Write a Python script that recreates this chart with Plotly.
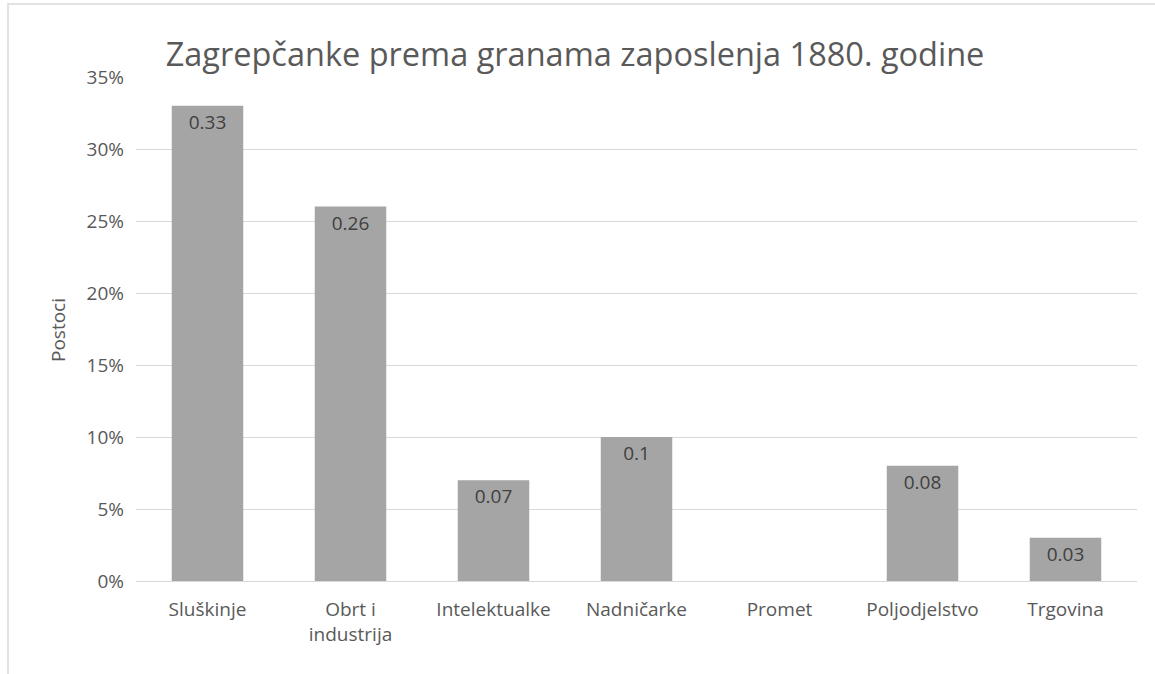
import plotly.graph_objects as go

categories = ["Sluškinje", "Obrt i<br>industrija", "Intelektualke", "Nadničarke", "Promet", "Poljodjelstvo", "Trgovina"]
values = [0.33, 0.26, 0.07, 0.10, 0.0, 0.08, 0.03]
labels = ["0.33", "0.26", "0.07", "0.1", "", "0.08", "0.03"]
y_ticks = [0, 0.05, 0.10, 0.15, 0.20, 0.25, 0.30, 0.35]
y_tick_text = ["0%", "5%", "10%", "15%", "20%", "25%", "30%", "35%"]

FONT = "Open Sans, Lato, sans-serif"
W, H = 1155, 674
L, R, T, B = 136, 18, 77, 93
PW, PH = W - L - R, H - T - B

fig = go.Figure(go.Bar(
    x=categories, y=values, text=labels,
    textposition="inside", insidetextanchor="end",
    textfont=dict(size=19, color="#404040", family=FONT),
    marker=dict(color="#A5A5A5", line=dict(width=0)),
    cliponaxis=False,
))

fig.update_layout(
    width=W, height=H,
    margin=dict(l=L, r=R, t=T, b=B),
    paper_bgcolor="white", plot_bgcolor="white",
    bargap=0.5,
    showlegend=False,
    font=dict(family=FONT, color="#595959", size=19),
    title=dict(text="Zagrepčanke prema granama zaposlenja 1880. godine",
               x=575 / W, xref="container", xanchor="center", y=1 - 55 / H, yanchor="middle",
               font=dict(size=32.5, color="#595959", family=FONT)),
    xaxis=dict(showgrid=False, showline=True, linecolor="#D9D9D9", linewidth=1,
               ticks="", ticklabelstandoff=11, tickfont=dict(size=19, color="#595959")),
    yaxis=dict(range=[0, 0.35], tickvals=y_ticks, ticktext=y_tick_text,
               showgrid=True, gridcolor="#D9D9D9", gridwidth=1, zeroline=False,
               showline=False, ticks="", ticklabelstandoff=11,
               tickfont=dict(size=19, color="#595959")),
    uniformtext=dict(mode=False),
)

fig.add_annotation(text="Postoci", xref="paper", yref="paper",
                   x=(58 - L) / PW, y=(H - B - 330) / PH, textangle=-90,
                   showarrow=False, xanchor="center", yanchor="middle",
                   font=dict(size=19, color="#595959", family=FONT))

# chart-area border (cropped on right and bottom in the original)
fig.add_shape(type="rect", xref="paper", yref="paper",
              x0=(8 - L) / PW, x1=1.2,
              y0=-0.3, y1=1 + (T - 4) / PH,
              line=dict(color="#D9D9D9", width=1.5), fillcolor="rgba(0,0,0,0)", layer="below")

fig.write_html("out.html", config={"displayModeBar": False},
               post_script="document.body.style.margin='0';")
